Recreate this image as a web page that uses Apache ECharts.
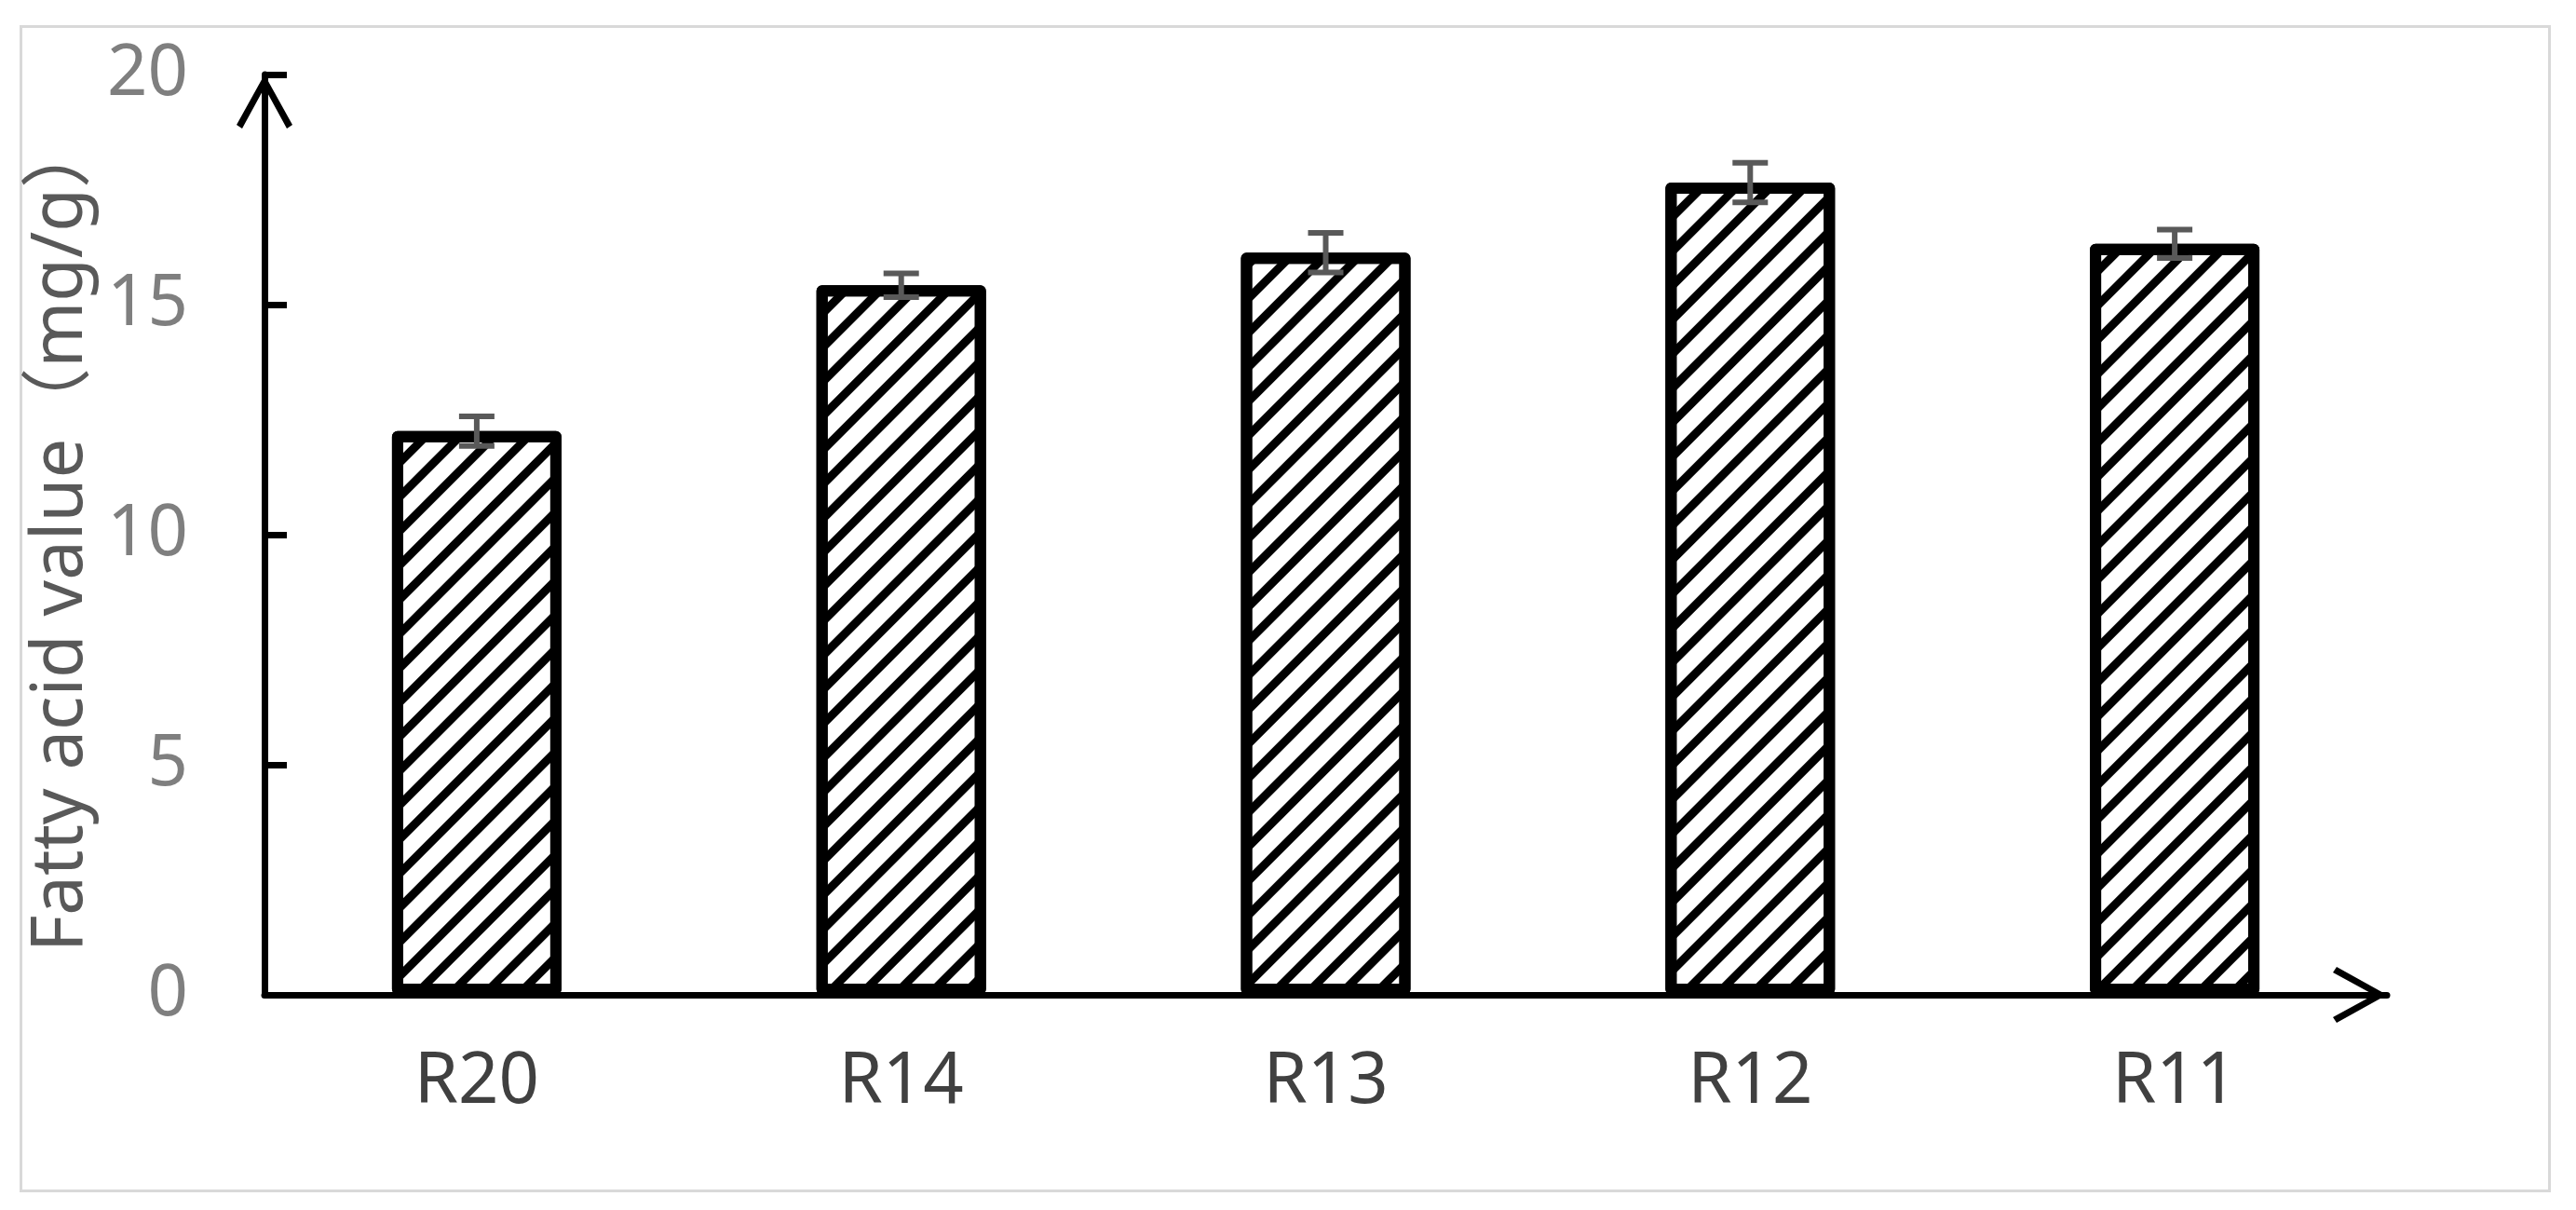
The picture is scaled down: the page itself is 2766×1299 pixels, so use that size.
<!DOCTYPE html>
<html>
<head>
<meta charset="utf-8">
<script src="https://cdn.jsdelivr.net/npm/echarts@6/dist/echarts.min.js"></script>
<style>
  html, body { margin: 0; padding: 0; background: #fff; }
  #chart { width: 2766px; height: 1299px; }
</style>
</head>
<body>
<div id="chart"></div>
<script>
// values
let categories = ['R20', 'R14', 'R13', 'R12', 'R11'];
let fattyAcid  = [12.25, 15.42, 16.13, 17.65, 16.32];
let errors     = [0.32, 0.26, 0.43, 0.43, 0.31];
let yTicks     = [0, 5, 10, 15, 20];

let font = '"Noto Sans", "Noto Sans CJK SC", sans-serif';
// open arrow head drawn as a thin chevron
let chevron = 'path://M30,0 L60,54 L54,58 L30,14 L6,58 L0,54 Z';

let errData = fattyAcid.map((v, i) => [i, v - errors[i], v + errors[i]]);

let chart = echarts.init(document.getElementById('chart'));

chart.setOption({
    animation: false,
    backgroundColor: '#fff',
    graphic: [{
        type: 'rect',
        left: 20, top: 26,
        shape: { width: 2715, height: 1250 },
        style: { fill: 'none', stroke: '#d9d9d9', lineWidth: 3 },
        silent: true
    }],
    grid: { left: 284, right: 203, top: 80, bottom: 231 },
    xAxis: {
        type: 'category',
        data: categories,
        axisLine: {
            lineStyle: { color: '#000', width: 7 },
            symbol: ['none', chevron],
            symbolSize: [64, 58],
            symbolOffset: [0, -29]
        },
        axisTick: { show: false },
        axisLabel: { color: '#404040', fontSize: 76, fontFamily: font, margin: 56 }
    },
    yAxis: {
        type: 'value',
        min: yTicks[0],
        max: yTicks[yTicks.length - 1],
        interval: yTicks[1] - yTicks[0],
        name: 'Fatty acid value（mg/g）',
        nameLocation: 'middle',
        nameGap: 122,
        nameTextStyle: { color: '#595959', fontSize: 76, fontFamily: font },
        axisLine: {
            show: true,
            lineStyle: { color: '#000', width: 7 },
            symbol: ['none', chevron],
            symbolSize: [60, 58],
            symbolOffset: [0, -29]
        },
        axisTick: { show: true, inside: true, length: 24, lineStyle: { color: '#000', width: 7 } },
        splitLine: { show: false },
        axisLabel: { color: '#7f7f7f', fontSize: 76, fontFamily: font, margin: 82 }
    },
    series: [{
        type: 'bar',
        data: fattyAcid,
        barWidth: 182,
        itemStyle: {
            color: '#fff',
            borderColor: '#000',
            borderWidth: 12,
            borderJoin: 'round',
            decal: {
                symbol: 'rect',
                symbolSize: 1,
                color: '#000',
                backgroundColor: null,
                dashArrayX: [1, 0],
                dashArrayY: [9, 16.5],
                rotation: -Math.PI / 4
            }
        },
        z: 2
    }, {
        type: 'custom',
        data: errData,
        z: 5,
        renderItem: function (params, api) {
            let lo = api.coord([api.value(0), api.value(1)]);
            let hi = api.coord([api.value(0), api.value(2)]);
            let half = 19;
            let st = { stroke: '#595959', lineWidth: 6 };
            return {
                type: 'group',
                children: [
                    { type: 'line', shape: { x1: lo[0], y1: lo[1], x2: hi[0], y2: hi[1] }, style: st },
                    { type: 'line', shape: { x1: lo[0] - half, y1: lo[1], x2: lo[0] + half, y2: lo[1] }, style: st },
                    { type: 'line', shape: { x1: hi[0] - half, y1: hi[1], x2: hi[0] + half, y2: hi[1] }, style: st }
                ]
            };
        }
    }]
});
</script>
</body>
</html>
